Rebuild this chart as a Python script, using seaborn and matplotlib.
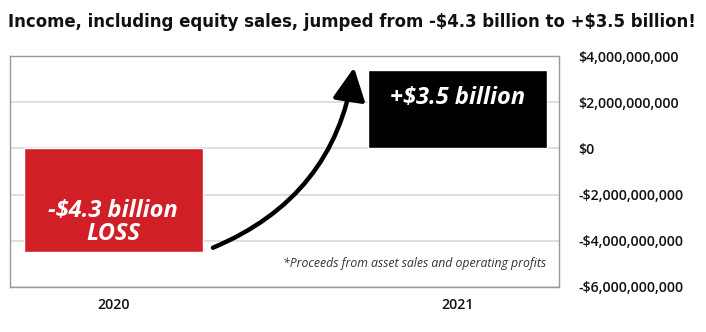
import matplotlib
matplotlib.use("Agg")
import matplotlib.pyplot as plt
import seaborn as sns
import pandas as pd
from matplotlib.ticker import FuncFormatter

years = ["2020", "2021"]
income = [-4.48e9, 3.4e9]
bar_labels = ["-$4.3 billion\nLOSS", "+$3.5 billion"]
bar_colors = ["#d01f27", "#000000"]
yticks = [4e9, 2e9, 0, -2e9, -4e9, -6e9]
title = "Income, including equity sales, jumped from -$4.3 billion to +$3.5 billion!"
footnote = "*Proceeds from asset sales and operating profits"

sns.set_style("white")
plt.rcParams['font.family'] = ['Open Sans', 'DejaVu Sans']
plt.rcParams['text.parse_math'] = False

fig = plt.figure(figsize=(7.06, 3.32), dpi=100)
ax = fig.add_axes([10/706, 45/332, 549/706, 231/332])

df = pd.DataFrame({"year": years, "income": income})
sns.barplot(data=df, x="year", y="income", hue="year", palette=bar_colors,
            width=0.52, legend=False, ax=ax, saturation=1, zorder=3)

ax.set_xlim(-0.3, 1.296)
ax.set_ylim(-6e9, 4e9)
ax.set_yticks(yticks)
ax.yaxis.set_major_formatter(FuncFormatter(
    lambda v, p: ("-" if v < 0 else "") + "${:,.0f}".format(abs(v))))
ax.yaxis.tick_right()
ax.tick_params(axis="y", length=0, pad=14, labelsize=10.2, colors="#111111")
ax.tick_params(axis="x", length=0, pad=8, labelsize=10.2, colors="#111111")
for lab in ax.get_yticklabels() + ax.get_xticklabels():
    lab.set_fontweight("semibold")
ax.set_xlabel("")
ax.set_ylabel("")
ax.yaxis.grid(True, color="#d9d9d9", linewidth=1.2, zorder=0)
ax.set_axisbelow(True)
for s in ax.spines.values():
    s.set_visible(True)
    s.set_color("#9a9a9a")
    s.set_linewidth(1.0)

# bar labels
ax.text(0, -3.2e9, bar_labels[0], ha="center", va="center", color="white",
        fontsize=17, fontweight="bold", fontstyle="italic", linespacing=0.95, zorder=5)
ax.text(1, 2.2e9, bar_labels[1], ha="center", va="center", color="white",
        fontsize=17, fontweight="bold", fontstyle="italic", zorder=5)

# curved arrow
ax.annotate("", xy=(0.70, 3.5e9), xytext=(0.29, -4.3e9),
            arrowprops=dict(arrowstyle="-|>,head_length=0.9,head_width=0.45",
                            color="black", lw=3.2,
                            connectionstyle="arc3,rad=0.28",
                            shrinkA=0, shrinkB=0, mutation_scale=22),
            zorder=6)

ax.text(1.26, -4.97e9, footnote, ha="right", va="center", fontsize=8.8,
        fontstyle="italic", color="#333333")

fig.text(0.012, 0.935, title, ha="left", va="center", fontsize=13.2,
         fontweight="bold", fontstretch="condensed",
         family=["DejaVu Sans"], color="#111111")

fig.savefig("out.png", dpi=100)
